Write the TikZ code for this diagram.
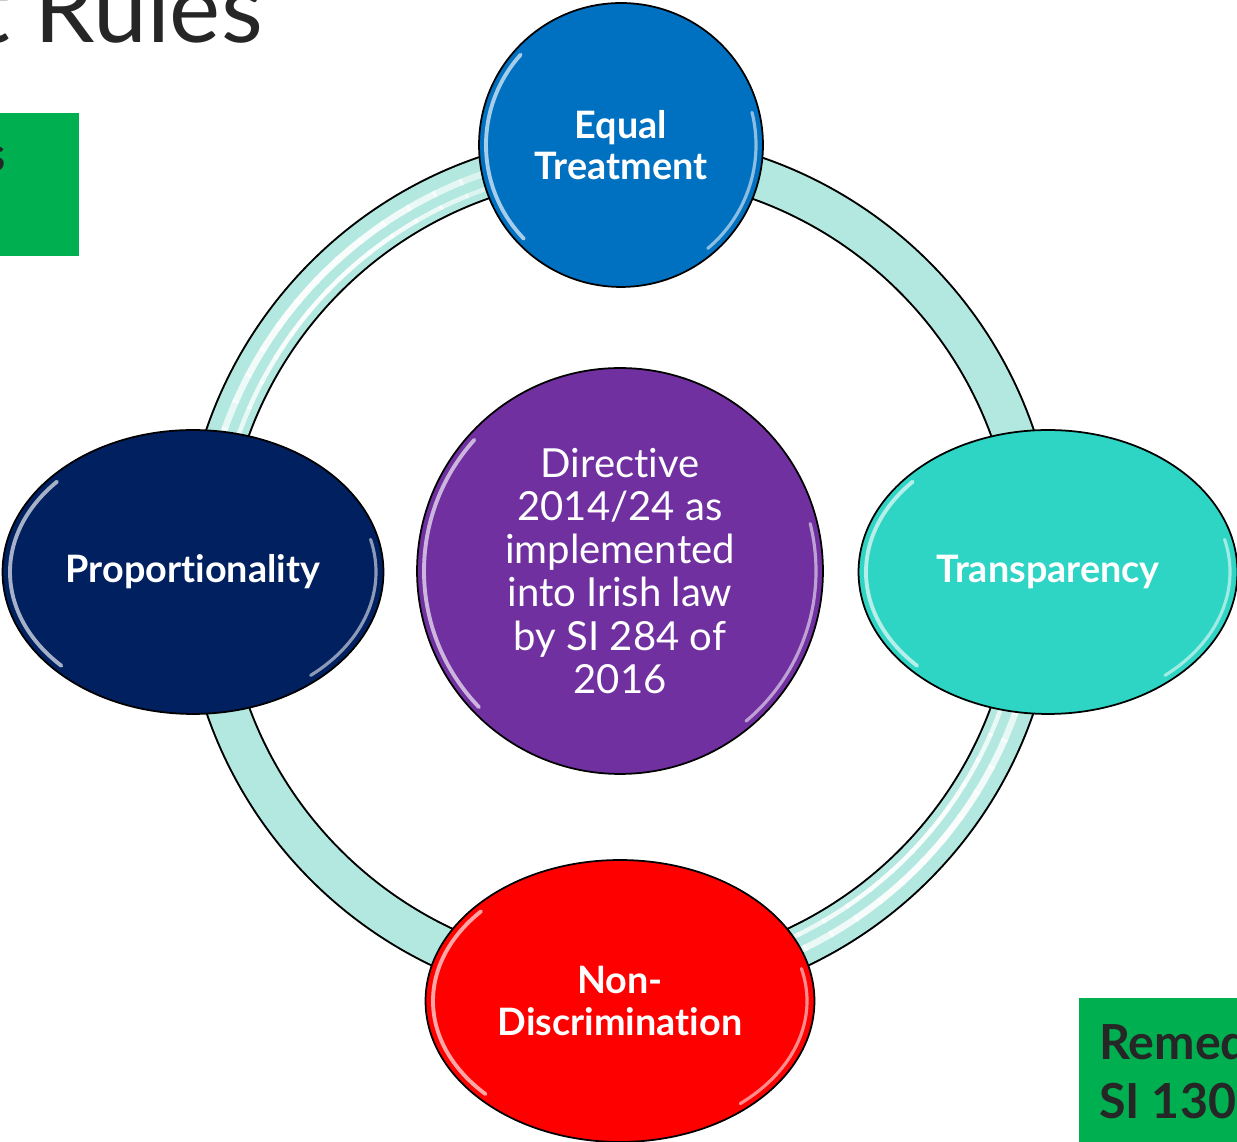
\documentclass[tikz,border=0pt]{standalone}
\usepackage{fontspec}
\setmainfont{Lato}[Ligatures={NoCommon}]
\usepackage{xcolor}
\usepackage{tikz}
\usetikzlibrary{shapes.geometric}
\definecolor{ringaqua}{HTML}{B2E8DF}
\definecolor{eqblue}{HTML}{0070C0}
\definecolor{dirpurple}{HTML}{7030A0}
\definecolor{propnavy}{HTML}{002060}
\definecolor{transteal}{HTML}{2ED4C4}
\definecolor{discred}{HTML}{FF0000}
\definecolor{boxgreen}{HTML}{00B050}
\definecolor{titlegray}{HTML}{262626}

% white sheen inside the rim of an oval node: #1 node, #2/#3 radii
\newcommand{\sheen}[3]{%
  \draw[white,opacity=.65,line width=2.2pt,line cap=round]
    ([shift={(138:#2-7 and #3-7)}]#1.center)
    arc[start angle=138,end angle=224,x radius=#2-7,y radius=#3-7];
  \draw[white,opacity=.55,line width=1.8pt,line cap=round]
    ([shift={(-50:#2-7 and #3-7)}]#1.center)
    arc[start angle=-50,end angle=14,x radius=#2-7,y radius=#3-7];
}

\begin{document}
\begin{tikzpicture}[x=0.02cm,y=0.02cm,
  bubble/.style={draw=black,line width=1pt,inner sep=0pt,text=white,
                 align=center,font=\bfseries\fontsize{21.5}{23.5}\selectfont},
  oval/.style={bubble,ellipse},
  ball/.style={bubble,circle},
  greenbox/.style={fill=boxgreen,draw=none}]
  \useasboundingbox (0,0) rectangle (1237,1142);

  % heading and side boxes, cut by the page edge
  \node[anchor=base east,text=titlegray,inner sep=0pt,
        font=\fontsize{55}{66}\selectfont] (title) at (263,1099) {t Rules};
  \fill[greenbox] (-300,886) rectangle (79,1029);
  \node[anchor=base east,text=titlegray,inner sep=0pt,
        font=\bfseries\fontsize{27.5}{34}\selectfont] (lefttag) at (6,970) {s};
  \fill[greenbox] (1079,0) rectangle (1400,144);
  \node[anchor=north west,text=titlegray,inner sep=0pt,align=left,
        font=\bfseries\fontsize{27.5}{34}\selectfont] (remedies) at (1099,119)
    {Remed\\SI 130};

  % the ring that joins the four principles
  \coordinate (ctr) at (620,571);
  \draw[black,line width=0.88cm] (ctr) circle[radius=416];
  \draw[ringaqua,line width=0.80cm] (ctr) circle[radius=416];
  \foreach \a in {0,4,...,356}{
    \pgfmathsetmacro\op{max(0,-sin(2*\a))*0.95}
    \draw[white,opacity=\op,line width=0.09cm]
      (ctr) ++(\a:405) arc[start angle=\a,end angle=\a+4.4,radius=405];
    \draw[white,opacity=\op,line width=0.13cm]
      (ctr) ++(\a:420) arc[start angle=\a,end angle=\a+4.4,radius=420];
  }

  \node[ball,fill=eqblue,minimum size=5.68cm] (equal) at (621,997)
    {Equal\\Treatment};
  \node[oval,fill=propnavy,minimum width=7.62cm,minimum height=5.68cm]
    (prop) at (193,570) {Proportionality};
  \node[oval,fill=transteal,minimum width=7.58cm,minimum height=5.68cm]
    (trans) at (1048,570) {Transparency};
  \node[oval,fill=discred,minimum width=7.78cm,minimum height=5.64cm]
    (nondisc) at (620,141) {Non-\\Discrimination};
  \node[ball,fill=dirpurple,minimum size=8.12cm,
        font=\fontsize{22.8}{24.5}\selectfont] (directive) at (620,571)
    {Directive\\2014/24 as\\implemented\\into Irish law\\by SI 284 of\\2016};

  \sheen{equal}{142}{142}
  \sheen{prop}{190}{142}
  \sheen{trans}{189}{142}
  \sheen{nondisc}{194}{141}
  \sheen{directive}{203}{203}
\end{tikzpicture}
\end{document}
